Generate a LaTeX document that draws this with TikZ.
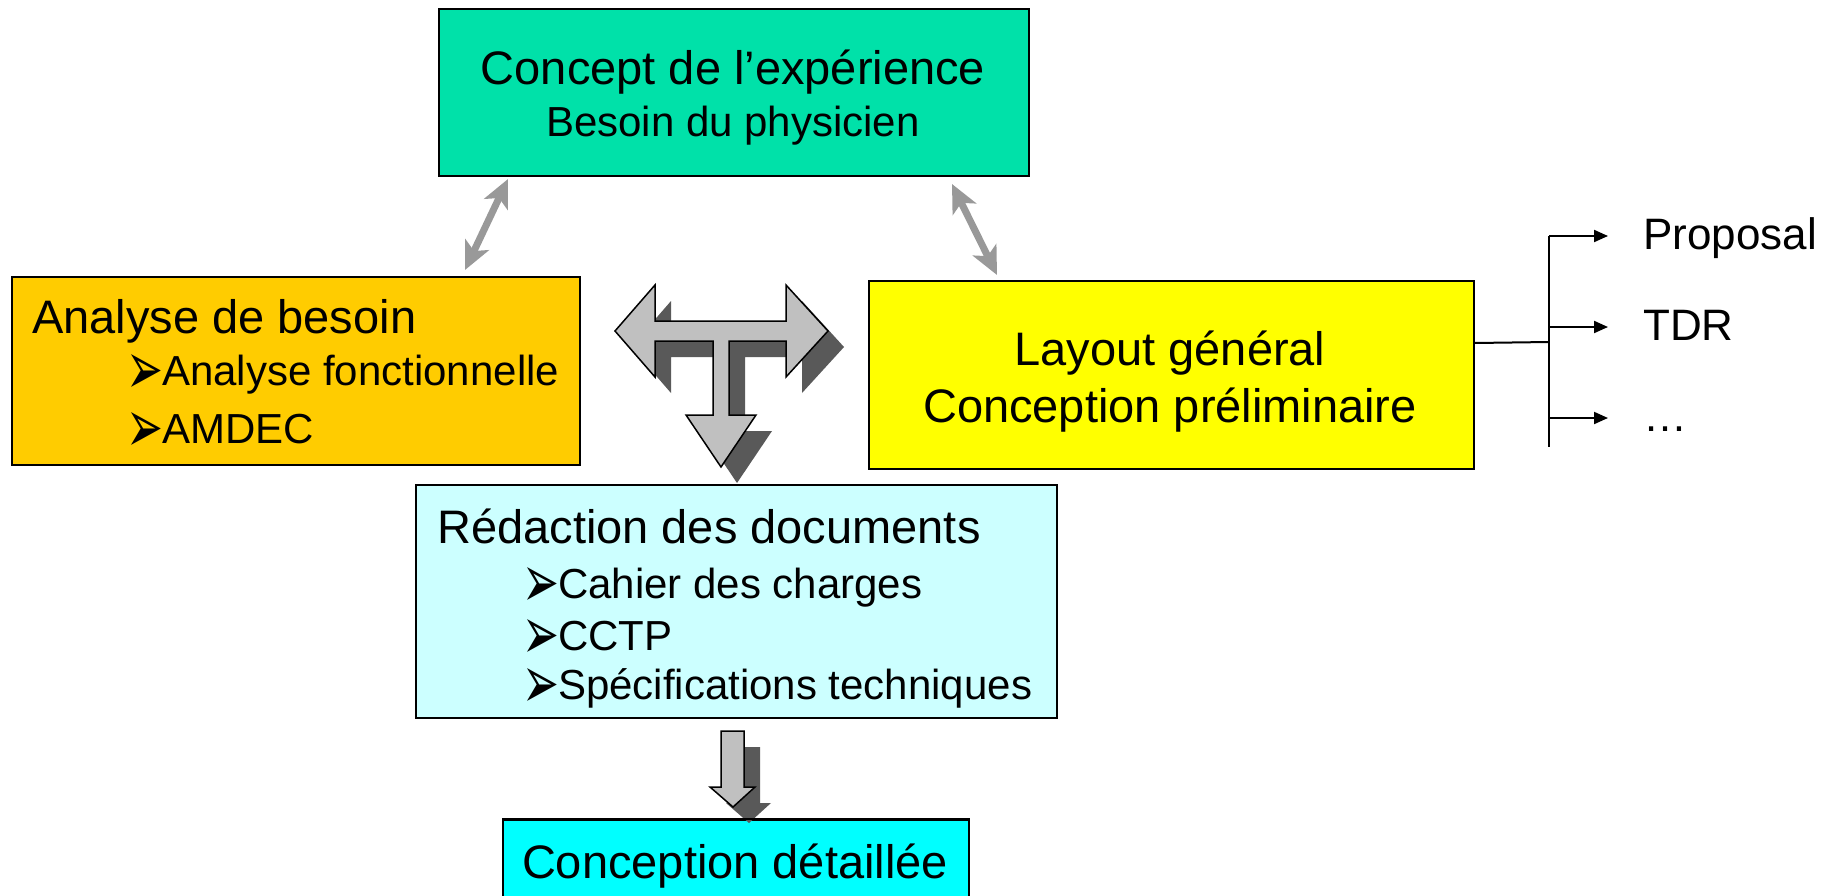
\documentclass[tikz,border=0pt]{standalone}
\usepackage{fontspec}
\setmainfont{Liberation Sans}
\newfontfamily\bulletfont{DejaVu Sans}
\usetikzlibrary{arrows.meta,calc}

\definecolor{conceptgreen}{HTML}{00E1A9}
\definecolor{besoinorange}{HTML}{FFCC00}
\definecolor{layoutyellow}{HTML}{FFFF00}
\definecolor{redacblue}{HTML}{CCFFFF}
\definecolor{detailcyan}{HTML}{00FFFF}
\definecolor{linkgray}{HTML}{999999}
\definecolor{tface}{HTML}{C0C0C0}
\definecolor{tshadow}{HTML}{595959}

\newcommand{\bigtxt}{\fontsize{47}{56}\selectfont}
\newcommand{\smalltxt}{\fontsize{42}{50}\selectfont}
\newcommand{\puce}{\kern-6pt\raisebox{-9pt}[28pt][0pt]{\resizebox{37pt}{40pt}{\bulletfont ➢}}\kern-1pt}

\tikzset{
  box/.style={draw=black, line width=2pt, inner sep=0pt, anchor=north west},
  title/.style={inner sep=0pt, anchor=base west, font=\bigtxt},
  item/.style={inner sep=0pt, anchor=base west, font=\smalltxt},
  link/.style={linkgray, line width=7pt,
    {Stealth[length=28pt,width=26pt,inset=7pt]}-{Stealth[length=28pt,width=26pt,inset=7pt]}},
  outarrow/.style={line width=2pt, -{Triangle[length=14pt,width=12pt]}, shorten >=35pt},
  outtext/.style={inner sep=0pt, anchor=west, text height=26pt, text depth=0pt,
    font=\fontsize{44}{52}\selectfont},
}

\begin{document}
\begin{tikzpicture}[x=1pt, y=-1pt]
    \useasboundingbox (0,0) rectangle (1827,896);
    \clip (0,0) rectangle (1827,896);

    % boxes
    \node[box, fill=conceptgreen, minimum width=590, minimum height=167] (concept) at (438,8) {};
    \node[box, fill=besoinorange, minimum width=568, minimum height=188] (besoin) at (11,276) {};
    \node[box, fill=layoutyellow, minimum width=605, minimum height=188] (layout) at (868,280) {};
    \node[box, fill=redacblue, minimum width=641, minimum height=233] (redaction) at (415,484) {};
    \node[box, fill=detailcyan, minimum width=466, minimum height=100] (detail) at (502,819) {};

    % texts
    \node[title, anchor=base] (conceptA) at (733,85) {Concept de l’expérience};
    \node[item, anchor=base] (conceptB) at (733,137) {Besoin du physicien};

    \node[title] (besoinT) at (32,333) {Analyse de besoin};
    \node[item] (besoinA) at (132,385) {\puce Analyse fonctionnelle};
    \node[item] (besoinB) at (132,443) {\puce AMDEC};

    \node[title, anchor=base] (layoutA) at (1170,365) {Layout général};
    \node[title, anchor=base] (layoutB) at (1170,422) {Conception préliminaire};

    \node[title] (redacT) at (437,543) {Rédaction des documents};
    \node[item] (redacA) at (528,598) {\puce Cahier des charges};
    \node[item] (redacB) at (528,650) {\puce CCTP};
    \node[item] (redacC) at (528,699) {\puce Spécifications techniques};

    \node[title, anchor=base] (detailT) at (735,878) {Conception détaillée};

    % gray links
    \draw[link] ($(concept.south west)+(70,2)$) -- ($(besoin.north east)+(-116,-6)$);
    \draw[link] ($(concept.south east)+(-78,7)$) -- ($(layout.north west)+(129,-5)$);

    % T arrow and small arrow, shadow first
    \foreach \d/\col/\edge in {16/tshadow/none, 0/tface/black}
    {
        \path[fill=\col, draw=\edge, line width=1.5pt, xshift=\d pt, yshift=-\d pt]
            (615,331) -- (655,285) -- (655,321) -- (786,321) -- (786,285) -- (828,331)
            -- (786,377) -- (786,341) -- (729,341) -- (729,415) -- (756,415) -- (721,467)
            -- (686,415) -- (713,415) -- (713,341) -- (655,341) -- (655,377) -- cycle;
        \path[fill=\col, draw=\edge, line width=1.5pt, xshift=\d pt, yshift=-\d pt]
            (721,731) -- (744,731) -- (744,787) -- (755,787) -- (733,807) -- (710,787)
            -- (721,787) -- cycle;
    }
    \draw[line width=2pt] (detail.north west) -- (detail.north east);

    % outputs
    \node[outtext] (prop) at (1643,236) {Proposal};
    \node[outtext] (tdr) at (1643,327) {TDR};
    \node[outtext] (more) at (1643,418) {…};
    \coordinate (fork) at (1549,342);
    \draw[line width=2pt] ([yshift=32pt]layout.east) -- (fork);
    \draw[line width=2pt] (1549,236) -- (1549,447);
    \foreach \n in {prop,tdr,more}
        \draw[outarrow] (fork |- \n.west) -- (\n.west);
\end{tikzpicture}
\end{document}
